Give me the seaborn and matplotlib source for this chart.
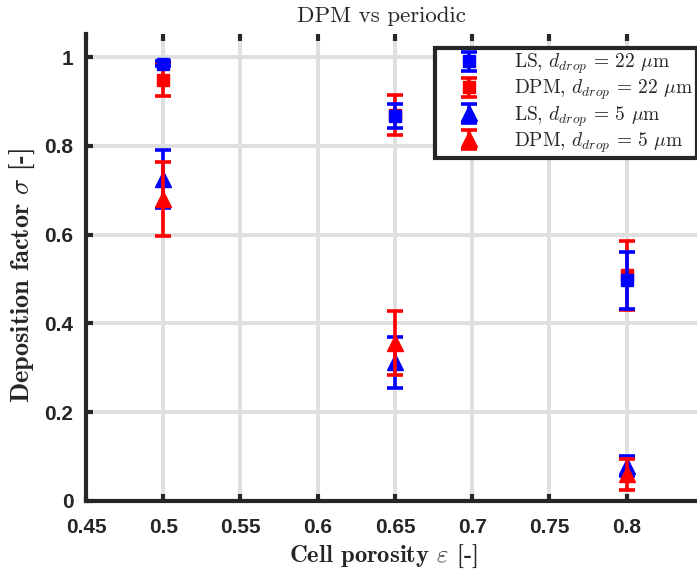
import numpy as np
import pandas as pd
import matplotlib
matplotlib.use("Agg")
import matplotlib.pyplot as plt
import seaborn as sns

# ---- data ----
porosity = [0.5, 0.65, 0.8]
ls22 = [0.985, 0.868, 0.497]
ls22_err = [0.006, 0.027, 0.065]
dpm22 = [0.948, 0.870, 0.508]
dpm22_err = [0.036, 0.045, 0.077]
ls5 = [0.725, 0.312, 0.079]
ls5_err = [0.065, 0.058, 0.022]
dpm5 = [0.680, 0.356, 0.060]
dpm5_err = [0.083, 0.072, 0.035]

xticks = [0.45, 0.5, 0.55, 0.6, 0.65, 0.7, 0.75, 0.8]
xticklabels = ["0.45", "0.5", "0.55", "0.6", "0.65", "0.7", "0.75", "0.8"]
yticks = [0, 0.2, 0.4, 0.6, 0.8, 1.0]
yticklabels = ["0", "0.2", "0.4", "0.6", "0.8", "1"]

series = [
    (r"LS, $d_{drop}$ = 22 $\mu$m", ls22, ls22_err, "#0000ff", "s", 9),
    (r"DPM, $d_{drop}$ = 22 $\mu$m", dpm22, dpm22_err, "#ff0000", "s", 9),
    (r"LS, $d_{drop}$ = 5 $\mu$m", ls5, ls5_err, "#0000ff", "^", 11),
    (r"DPM, $d_{drop}$ = 5 $\mu$m", dpm5, dpm5_err, "#ff0000", "^", 11),
]

sns.set_theme(style="white")
plt.rcParams["mathtext.fontset"] = "cm"
plt.rcParams["axes.formatter.use_mathtext"] = True

fig = plt.figure(figsize=(6.97, 5.75), dpi=100)
ax = fig.add_axes([86 / 697, 1 - 501 / 575, 1 - 86 / 697, (501 - 34) / 575])

zs = [4, 3, 5, 6]
for (lab, vals, errs, col, mk, ms), z in zip(series, zs):
    df = pd.DataFrame({"x": porosity, "y": vals, "e": errs})
    ax.errorbar(df["x"], df["y"], yerr=df["e"], fmt=mk, color=col, ms=ms,
                mec=col, mfc=col, elinewidth=2.6, capsize=6, capthick=2.6,
                label=lab, zorder=z)

ax.set_xlim(0.45, 0.8455)
ax.set_ylim(0, 1.052)
ax.set_xticks(xticks)
ax.set_xticklabels(xticklabels)
ax.set_yticks(yticks)
ax.set_yticklabels(yticklabels)
ax.grid(True, color="#dfdfdf", linewidth=2.8)
ax.set_axisbelow(True)

for s in ["top", "right"]:
    ax.spines[s].set_visible(False)
for s in ["left", "bottom"]:
    ax.spines[s].set_color("#262626")
    ax.spines[s].set_linewidth(3)

ax.tick_params(axis="both", direction="in", length=5, width=3, color="#262626",
               top=True, right=False, left=True, bottom=True)
ax.tick_params(axis="x", pad=12)
ax.tick_params(axis="y", pad=9)
for t in ax.get_xticklabels() + ax.get_yticklabels():
    t.set_fontfamily("Liberation Sans")
    t.set_fontweight("bold")
    t.set_fontsize(15)
    t.set_color("#262626")

ax.set_xlabel(r"Cell porosity $\varepsilon$ [-]", family="cmb10", fontsize=17.8,
              labelpad=3, color="#262626")
ax.xaxis.set_label_coords((383 - 86) / (697 - 86), -0.09)
ax.set_ylabel(r"Deposition factor $\sigma$ [-]", family="cmb10", fontsize=19,
              labelpad=8, color="#262626")
ax.yaxis.set_label_coords(-0.08, (501 - 275) / 467)
ax.set_title("DPM vs periodic", family="cmr10", fontsize=16.5, pad=9,
             x=(381 - 86) / (697 - 86))

leg = ax.legend(loc="upper right", bbox_to_anchor=(1.0, 0.97),
                prop={"family": "cmr10", "size": 14.0}, fancybox=False,
                framealpha=1, edgecolor="#262626", borderpad=0.2,
                labelspacing=0.08, handlelength=3.1, handletextpad=0.75,
                borderaxespad=0)
leg.get_frame().set_linewidth(3)

fig.savefig("out.png", dpi=100)
